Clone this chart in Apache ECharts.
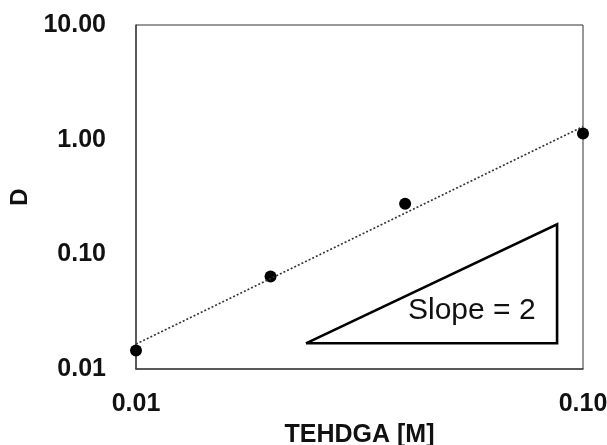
<!DOCTYPE html>
<html>
<head>
<meta charset="utf-8">
<script src="https://cdn.jsdelivr.net/npm/echarts@6/dist/echarts.min.js"></script>
<style>
  html, body { margin: 0; padding: 0; background: #fff; }
  #main { width: 607px; height: 445px; }
</style>
</head>
<body>
<div id="main"></div>
<script>
// measured points
const conc = [0.01, 0.02, 0.04, 0.1]
const dValues = [0.0145, 0.064, 0.276, 1.13]
// dotted trend line
const fitX = [0.01, 0.1]
const fitY = [0.0165, 1.3]
// slope triangle
const triX = [0.024, 0.0875, 0.0875, 0.024]
const triY = [0.01675, 0.01675, 0.183, 0.01675]
const yTicks = ['0.01', '0.10', '1.00', '10.00']

const font = '"Liberation Sans", Arial, sans-serif'
const zip = (a, b) => a.map((v, i) => [v, b[i]])

const myChart = echarts.init(document.getElementById('main'))
myChart.setOption({
  animation: false,
  backgroundColor: '#fff',
  grid: {
    left: 136, top: 25, right: 24, bottom: 76,
    outerBoundsMode: 'none', containLabel: false,
    show: true, borderColor: '#333', borderWidth: 1
  },
  xAxis: {
    type: 'log', logBase: 10, min: 0.01, max: 0.1,
    name: 'TEHDGA [M]', nameLocation: 'middle', nameGap: 54,
    nameTextStyle: { fontFamily: font, fontWeight: 'bold', fontSize: 25, color: '#111' },
    axisLine: { lineStyle: { color: '#444', width: 1.5 } },
    axisTick: { show: false },
    splitLine: { show: false },
    minorSplitLine: { show: false },
    axisLabel: {
      margin: 23, fontFamily: font, fontWeight: 'bold', fontSize: 25, color: '#111',
      formatter: v => v.toFixed(2)
    }
  },
  yAxis: {
    type: 'log', logBase: 10, min: 0.01, max: 10,
    name: 'D', nameLocation: 'middle', nameGap: 99,
    nameTextStyle: { fontFamily: font, fontWeight: 'bold', fontSize: 24, color: '#111' },
    axisLine: { lineStyle: { color: '#444', width: 1.5 } },
    axisTick: { show: false },
    splitLine: { show: false },
    axisLabel: {
      margin: 30, fontFamily: font, fontWeight: 'bold', fontSize: 25, color: '#111',
      formatter: v => yTicks.find(t => Math.abs(parseFloat(t) - v) < v * 1e-6) || v.toFixed(2)
    }
  },
  graphic: [{
    type: 'text', left: 408, top: 296,
    style: { text: 'Slope = 2', fontFamily: font, fontSize: 30, fill: '#111' }
  }],
  series: [
    {
      type: 'line', data: zip(fitX, fitY), symbol: 'none', silent: true,
      lineStyle: { color: '#333', width: 1.6, type: [2, 2] }
    },
    {
      type: 'line', data: zip(triX, triY), symbol: 'none', silent: true,
      lineStyle: { color: '#000', width: 2.6, join: 'miter' }
    },
    {
      type: 'scatter', data: zip(conc, dValues), symbol: 'circle', symbolSize: 12,
      itemStyle: { color: '#000', opacity: 1 }, clip: false
    }
  ]
})
</script>
</body>
</html>
